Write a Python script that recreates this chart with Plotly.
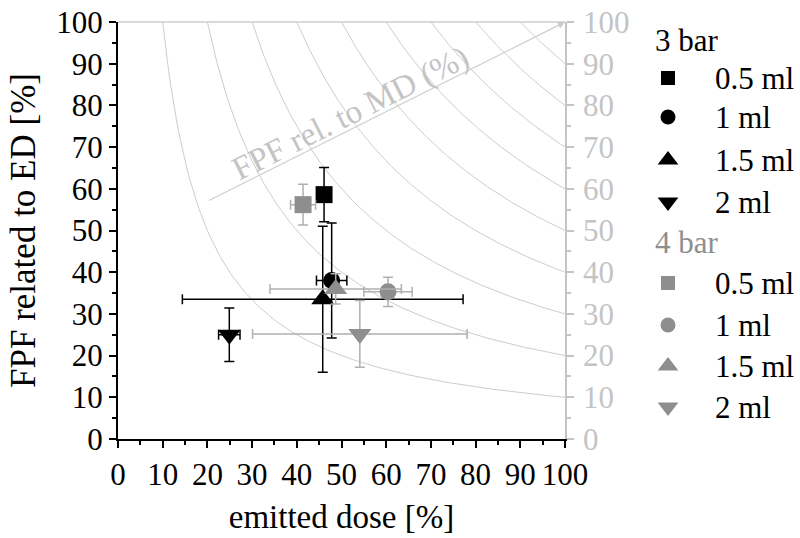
import plotly.graph_objects as go

# Emitted dose vs. FPF related to ED, per pressure and fill volume
volumes = ["0.5 ml", "1 ml", "1.5 ml", "2 ml"]
symbols = ["square", "circle", "triangle-up", "triangle-down"]
groups = ["3 bar", "4 bar"]

ed_3bar = [46.1, 47.8, 45.8, 24.9]
ed_3bar_err = [0.8, 3.4, 31.4, 2.4]
fpf_3bar = [58.6, 38.0, 33.5, 25.0]
fpf_3bar_err = [6.5, 13.8, 17.5, 6.4]

ed_4bar = [41.4, 60.4, 48.7, 54.1]
ed_4bar_err = [2.8, 5.4, 14.7, 24.0]
fpf_4bar = [56.2, 35.3, 36.0, 25.2]
fpf_4bar_err = [4.9, 3.5, 3.6, 8.0]

# iso-lines of FPF relative to metered dose (ED * FPF/ED)
fpf_md_levels = [10, 20, 30, 40, 50, 60, 70, 80, 90]

FONT = "Liberation Serif, Times New Roman, Times, serif"
GRID = "#cdcdcd"
LABEL_GREY = "#c4c4c4"
C3 = "black"
C4 = "#8e8e8e"
C4_ERR = "#b0b0b0"
W, H = 800, 538

fig = go.Figure()

for lvl in fpf_md_levels:
    xs = [lvl + (100 - lvl) * i / 200 for i in range(201)]
    ys = [100 * lvl / x for x in xs]
    fig.add_trace(go.Scatter(x=xs, y=ys, mode="lines", line=dict(color=GRID, width=1),
                             showlegend=False, hoverinfo="skip"))

SIZES = {"square": 17, "circle": 17, "triangle-up": 20, "triangle-down": 20}

def add_series(ed, ed_err, fpf, fpf_err, color, err_color):
    for i, v in enumerate(volumes):
        fig.add_trace(go.Scatter(
            x=[ed[i]], y=[fpf[i]], mode="markers", name=v, showlegend=False,
            marker=dict(symbol=symbols[i], color=color, size=SIZES[symbols[i]], line=dict(width=0)),
            error_x=dict(type="data", array=[ed_err[i]], color=err_color, thickness=1.5, width=5),
            error_y=dict(type="data", array=[fpf_err[i]], color=err_color, thickness=1.5, width=5),
        ))

add_series(ed_3bar, ed_3bar_err, fpf_3bar, fpf_3bar_err, C3, C3)
add_series(ed_4bar, ed_4bar_err, fpf_4bar, fpf_4bar_err, C4, C4_ERR)

# right-hand scale for the FPF rel. to MD iso-lines
fig.add_trace(go.Scatter(x=[None], y=[None], yaxis="y2", showlegend=False, hoverinfo="skip"))

# key drawn on a pixel-scaled helper axis pair (x3/y3) in the right-hand strip
KEY_X0 = 630
key_x_marker, key_x_text, key_x_title = 668, 713, 653
key_rows = [[78, 117, 160, 202], [283, 325, 366, 407]]
key_title_y = [40, 242]
key_colors = [C3, C4]
key_sizes = {"square": 14, "circle": 15, "triangle-up": 18, "triangle-down": 18}
for g, name in enumerate(groups):
    fig.add_annotation(x=key_x_title, y=key_title_y[g], xref="x3", yref="y3", text=name,
                       showarrow=False, xanchor="left", yanchor="middle",
                       font=dict(family=FONT, size=31, color=key_colors[g]))
    for i, v in enumerate(volumes):
        fig.add_trace(go.Scatter(x=[key_x_marker], y=[key_rows[g][i]], xaxis="x3", yaxis="y3",
                                 mode="markers", showlegend=False, hoverinfo="skip",
                                 marker=dict(symbol=symbols[i], color=key_colors[g],
                                             size=key_sizes[symbols[i]], line=dict(width=0))))
        fig.add_annotation(x=key_x_text, y=key_rows[g][i], xref="x3", yref="y3", text=v,
                           showarrow=False, xanchor="left", yanchor="middle",
                           font=dict(family=FONT, size=31, color="black"))

fig.add_annotation(x=100, y=100, ax=20, ay=57, xref="x", yref="y", axref="x", ayref="y",
                   showarrow=True, arrowhead=2, arrowsize=1.2, arrowwidth=1.2, arrowcolor=GRID, text="")
fig.add_annotation(x=52.0, y=78.0, xref="x", yref="y", text="FPF rel. to MD (%)", showarrow=False,
                   textangle=-26.6, font=dict(family=FONT, size=33, color=LABEL_GREY))

axis_common = dict(range=[0, 100], dtick=10, ticks="outside", ticklen=7, tickwidth=2,
                   showgrid=False, zeroline=False, showline=True, linewidth=2,
                   minor=dict(dtick=5, ticks="outside", ticklen=4, tickwidth=2))

px0, px1, py_top, py_bot = 118, 565, 22, 439
xdom = [px0 / W, px1 / W]
ydom = [(H - py_bot) / H, (H - py_top) / H]

fig.update_layout(
    width=W, height=H,
    margin=dict(l=0, r=0, t=0, b=0, pad=0, autoexpand=False),
    plot_bgcolor="rgba(0,0,0,0)", paper_bgcolor="white",
    font=dict(family=FONT, size=31, color="black"),
    showlegend=False,
    xaxis=dict(**axis_common, domain=xdom, anchor="y", linecolor="black", tickcolor="black",
               tickfont=dict(family=FONT, size=31), automargin=False,
               title=dict(text="emitted dose [%]", font=dict(family=FONT, size=33), standoff=14)),
    yaxis=dict(**axis_common, domain=ydom, anchor="x", linecolor="black", tickcolor="black",
               tickfont=dict(family=FONT, size=31), automargin=False,
               title=dict(text="FPF related to ED [%]", font=dict(family=FONT, size=35), standoff=10)),
    yaxis2=dict(overlaying="y", side="right", anchor="x", range=[0, 100], dtick=10, ticks="outside", ticklen=7,
                tickwidth=1.5, tickcolor=LABEL_GREY, showline=True, linewidth=1.5, linecolor=LABEL_GREY,
                showgrid=False, zeroline=False, tickfont=dict(family=FONT, size=31, color=LABEL_GREY),
                automargin=False, ticklabelstandoff=3,
                minor=dict(dtick=5, ticks="outside", ticklen=4, tickwidth=1.5, tickcolor=LABEL_GREY)),
    xaxis3=dict(domain=[KEY_X0 / W, 1], range=[KEY_X0, W], anchor="y3", visible=False, fixedrange=True),
    yaxis3=dict(domain=[0, 1], range=[H, 0], anchor="x3", visible=False, fixedrange=True),
)

# top border line
fig.add_shape(type="line", xref="x domain", yref="y domain", x0=0, x1=1, y0=1, y1=1,
              line=dict(color=GRID, width=1.5))

fig.write_html("out.html")
